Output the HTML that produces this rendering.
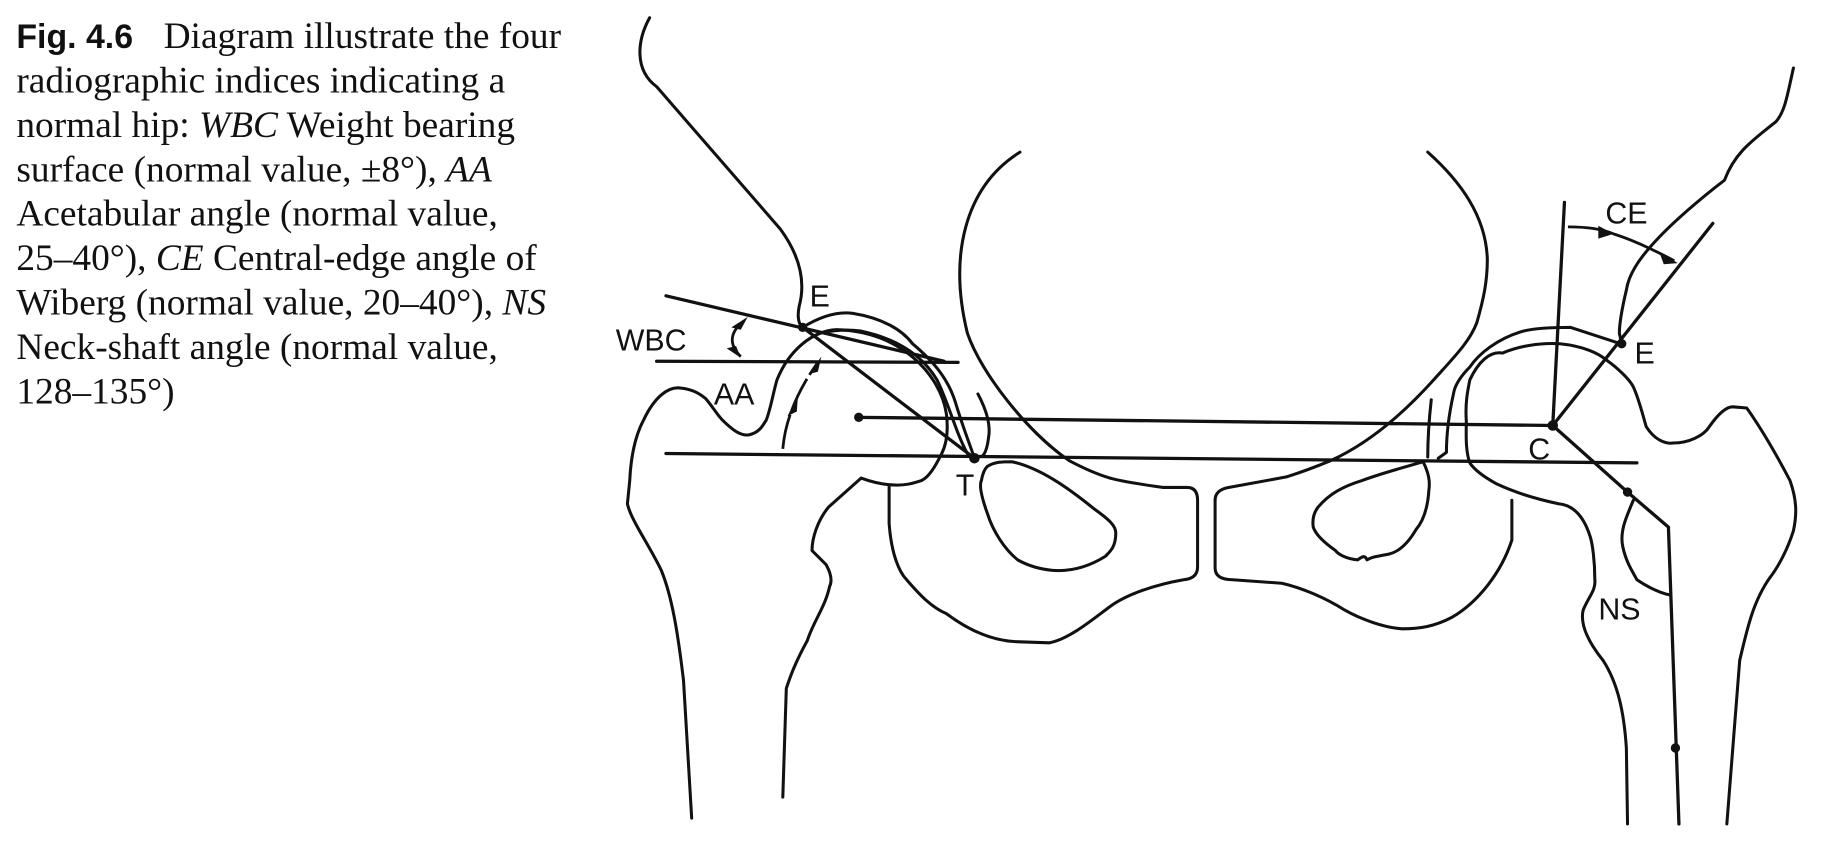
<!DOCTYPE html>
<html><head><meta charset="utf-8"><style>
html,body{margin:0;padding:0;background:#fff;}
body{width:1832px;height:844px;overflow:hidden;position:relative;}
svg{position:absolute;left:0;top:0;}
</style></head><body>
<svg width="1832" height="844" viewBox="0 0 1568 722" xmlns="http://www.w3.org/2000/svg">
<g font-family="Liberation Serif, serif" font-size="32" fill="#111">
<text x="14" y="41" font-family="Liberation Sans, sans-serif" font-weight="bold" font-size="29">Fig. 4.6</text>
<text x="140" y="41">Diagram illustrate the four</text>
<text x="14" y="79">radiographic indices indicating a</text>
<text x="14" y="117">normal hip: <tspan font-style="italic">WBC</tspan> Weight bearing</text>
<text x="14" y="155">surface (normal value, ±8°), <tspan font-style="italic">AA</tspan></text>
<text x="14" y="193">Acetabular angle (normal value,</text>
<text x="14" y="231">25–40°), <tspan font-style="italic">CE</tspan> Central-edge angle of</text>
<text x="14" y="269">Wiberg (normal value, 20–40°), <tspan font-style="italic">NS</tspan></text>
<text x="14" y="307">Neck-shaft angle (normal value,</text>
<text x="14" y="345">128–135°)</text>
</g>
<g fill="none" stroke="#111" stroke-width="2.6" stroke-linecap="round" stroke-linejoin="round">
<path d="M556,15 C545,35 543,60 562,74 L668,196 C684,218 690,240 684,262 C682,272 684,278 687,280"/>
<path d="M687,280 C700,272 715,266 730,268 C755,272 772,282 781,294 C800,310 812,325 818,345 C824,365 830,380 834,392"/>
<path d="M702,285 C715,282 725,282 736,283 C770,290 790,305 802,325 C812,345 818,370 828,388"/>
<path d="M837,337 C845,352 848,365 846,375 C845,383 843,388 841,390"/>
<path d="M592,700 L585,582 C580,540 575,510 566,488 C555,465 540,445 537,431 L539,411 C540,390 544,372 551,359 C560,340 572,330 583,332 C592,333 598,336 604,341 C610,348 614,355 618,359 C627,368 634,373 641,372 C650,370 653,364 656,359 C660,348 662,335 665,325 C675,300 695,283 716,282 C770,283 805,320 810,354 C812,370 810,380 806,388 C800,400 795,408 789,411 C780,414 775,415 768,415 C755,415 745,412 737,409 L709,434 C700,445 695,460 695,471 L707,483 C712,492 712,498 710,502 C706,520 696,532 691,548 C680,568 676,580 673,589 L670,682"/>
<path d="M761,416 L761,448 C763,475 770,490 776,496 C788,510 798,520 810,525 C830,540 850,548 869,549 L898,550 C915,547 935,530 950,519 C965,508 990,500 1013,496 Q1025,495 1025,485 L1025,428 Q1025,417 1016,417 L995,417 C975,414 960,412 950,409"/>
<path d="M873,130 C825,160 812,220 828,285 C840,320 880,370 915,394 C930,402 940,406 950,409"/>
<path d="M845,399 C852,395 858,395 866,395 C890,400 915,418 936,435 C950,445 955,450 955,456 C955,468 950,472 946,476 C930,486 915,489 901,488 C890,487 880,484 871,479 C860,470 850,455 845,439 C840,425 838,415 840,411 C841,405 843,401 845,399 Z"/>
<path d="M1040,428 Q1040,419 1052,417 L1101,408 C1120,402 1139,394 1139,394 C1170,380 1200,355 1227,325 C1245,305 1258,292 1264,276 C1270,255 1273,240 1273,222 C1272,185 1250,155 1222,130"/>
<path d="M1294,428 L1294,462 C1285,490 1265,515 1243,528 C1228,536 1215,538 1200,538 C1185,537 1165,530 1151,522 C1135,512 1115,503 1097,499 L1055,496 Q1040,496 1040,486 L1040,428"/>
<path d="M1218,395 C1223,405 1224,412 1223,419 C1222,435 1218,446 1212,453 C1205,465 1197,472 1189,474 C1180,476 1175,476 1170,479 C1168,474 1165,477 1162,479 C1152,478 1145,474 1143,471 C1133,464 1126,457 1124,451 C1123,444 1125,438 1128,434 C1138,422 1150,416 1166,411 C1185,404 1205,399 1218,395 Z"/>
<path d="M1535,58 C1530,80 1528,95 1520,104 C1500,120 1485,130 1476,154 C1455,170 1432,190 1418,205 C1402,222 1394,235 1392,248 C1388,265 1386,278 1386,285 L1388,294"/>
<path d="M1384,293 L1344,280 C1325,280 1310,281 1301,284 C1282,290 1266,302 1258,314 C1250,322 1245,330 1244,337 C1240,355 1238,370 1238,387 L1231,392"/>
<path d="M1225,342 C1223,360 1222,375 1222,391"/>
<path d="M1372,565 C1360,550 1352,535 1355,522 C1360,510 1366,505 1365,496 C1365,480 1363,465 1361,459 C1355,440 1345,432 1334,431 C1315,427 1298,422 1281,414 C1270,408 1262,402 1258,396 C1254,385 1255,370 1255,360 C1254,345 1256,335 1258,325 C1265,310 1275,300 1286,302 C1300,296 1318,293 1335,294 C1355,296 1368,302 1375,308 C1385,315 1395,325 1398,331 C1403,342 1406,355 1409,365 C1416,376 1425,380 1432,379 C1445,379 1458,373 1463,365 C1470,355 1477,348 1483,348 L1495,349 C1510,370 1522,392 1532,411 C1538,428 1538,440 1535,454 C1530,470 1522,485 1515,494 C1500,515 1495,540 1489,565 L1478,705"/>
<path d="M1372,565 C1385,585 1390,610 1392,640 L1393,705"/>
<path d="M1398,428 C1392,442 1386,455 1389,468 C1392,482 1398,490 1401,496 C1410,502 1420,507 1429,509"/>
</g>
<g fill="none" stroke="#111" stroke-width="2.8" stroke-linecap="round">
<line x1="570" y1="388" x2="1401" y2="396"/>
<line x1="735" y1="357" x2="1329" y2="364"/>
<line x1="562" y1="309" x2="820" y2="310"/>
<line x1="570" y1="253" x2="808" y2="309"/>
<line x1="687" y1="280" x2="834" y2="392"/>
<line x1="1339" y1="173" x2="1329" y2="364"/>
<line x1="1329" y1="364" x2="1466" y2="191"/>
<polyline points="1329,364 1393,421 1428,451 1437,705"/>
</g>
<g fill="#111">
<circle cx="687" cy="280" r="4"/><circle cx="735" cy="357" r="4"/><circle cx="834" cy="392" r="4.5"/>
<circle cx="1329" cy="364" r="4.5"/><circle cx="1388" cy="294" r="4"/><circle cx="1393" cy="421" r="4"/><circle cx="1434" cy="640" r="4"/>
</g>
<g fill="none" stroke="#111" stroke-width="2.4">
<path d="M636,275 C624,285 624,295 634,305"/>
<path d="M670,384 C672,360 682,335 700,310" stroke-dasharray="30 4"/>
<path d="M1342,194 C1360,194 1372,196 1381,200 C1400,206 1418,215 1433,223"/>
</g>
<g fill="#111">
<polygon points="640,271 626,280 634,282"/>
<polygon points="634,306 622,298 630,296"/>
<polygon points="703,305 692,320 700,318"/>
<polygon points="683,338 674,356 682,352"/>
<polygon points="1381,200 1368,193 1368,204"/>
<polygon points="1436,225 1420,215 1424,226"/>
</g>
<g font-family="Liberation Sans, sans-serif" font-size="26" fill="#111">
<text x="693" y="262">E</text>
<text x="527" y="300">WBC</text>
<text x="611" y="346">AA</text>
<text x="818" y="424">T</text>
<text x="1374" y="191">CE</text>
<text x="1399" y="311">E</text>
<text x="1308" y="393">C</text>
<text x="1368" y="530">NS</text>
</g>
</svg>
</body></html>
